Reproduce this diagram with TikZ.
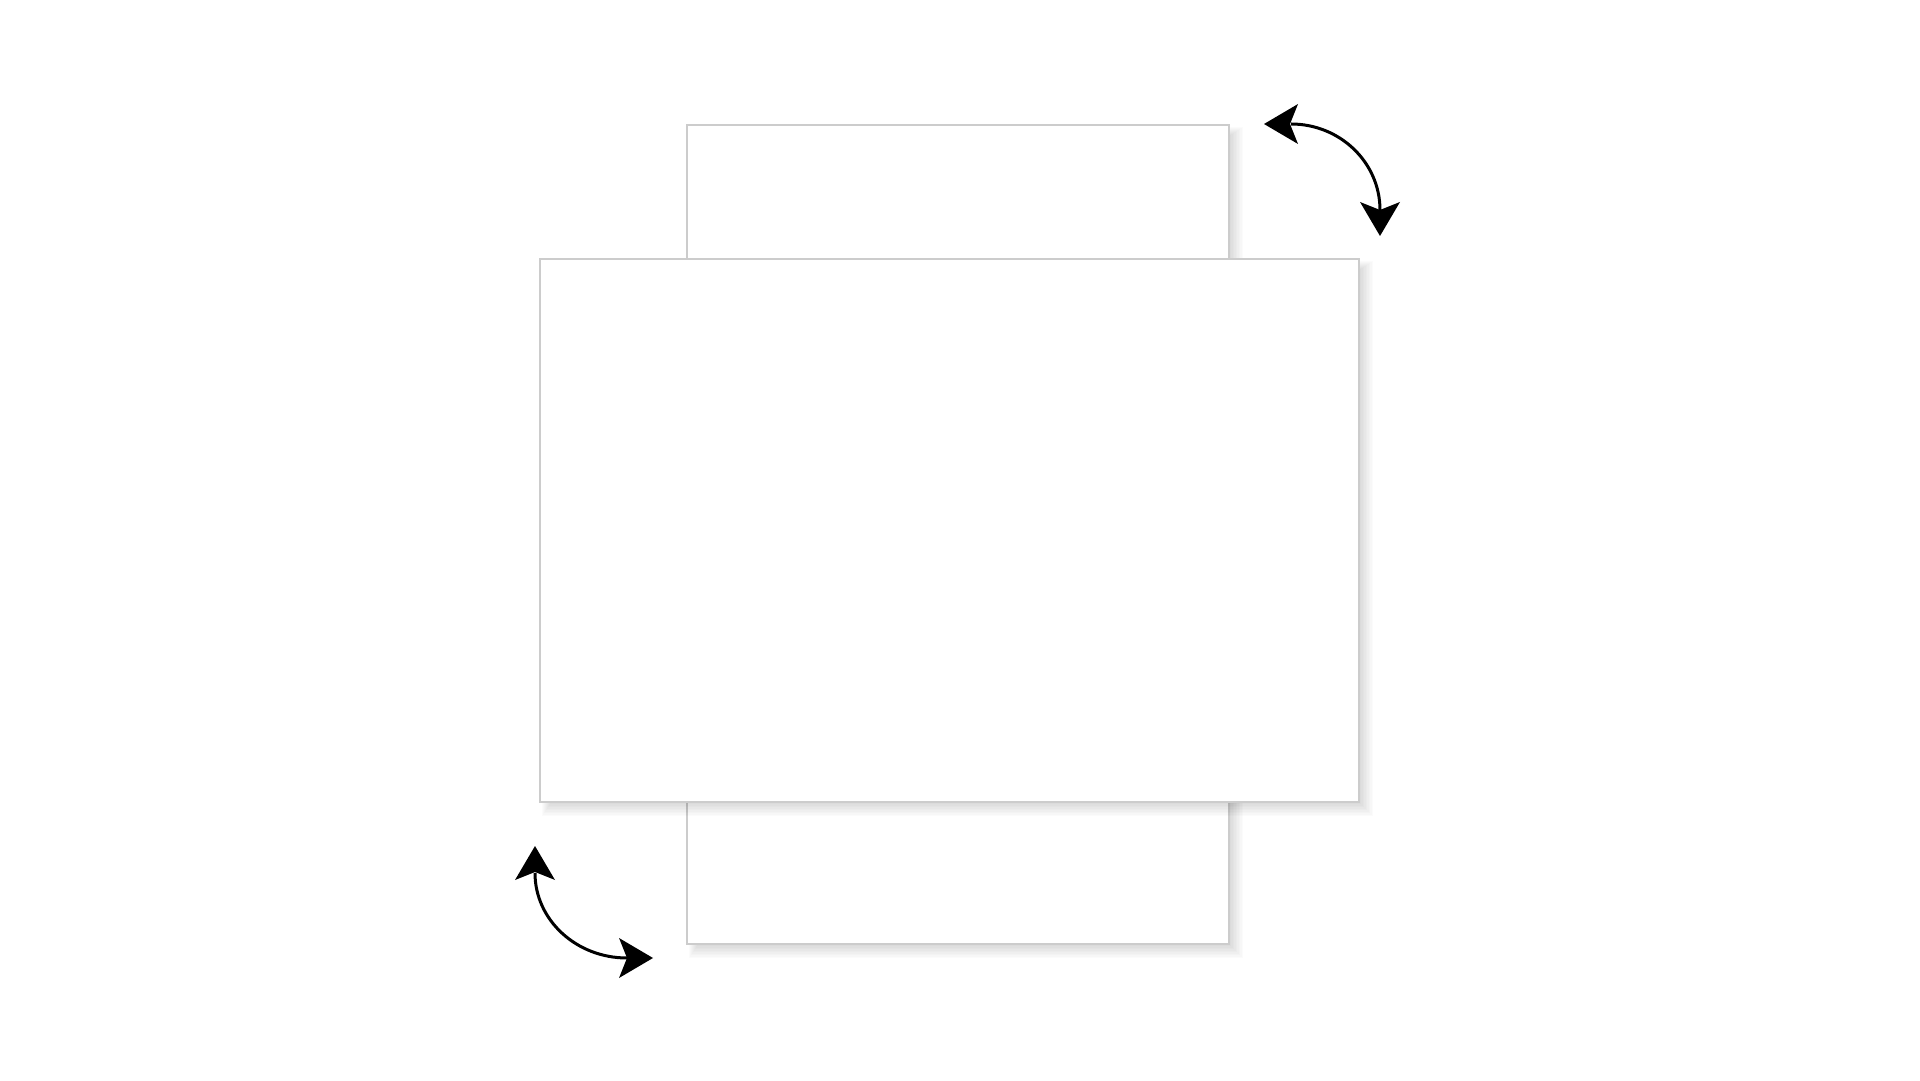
\documentclass[tikz,border=0pt]{standalone}
\tikzset{
  sheet/.style={draw=black!20, line width=1.2pt, fill=white, inner sep=0pt, outer sep=0pt},
  turnline/.style={line width=3pt},
  shadowlayer/.style={fill=black, opacity=0.014},
  tiphead/.pic={\fill[black] (0,0) -- (34,20) -- (26,0) -- (34,-20) -- cycle;}
}
\begin{document}
\begin{tikzpicture}[x=1pt,y=1pt]
\useasboundingbox (0,0) rectangle (1920,1080);
\fill[white] (0,0) rectangle (1920,1080);
% tall sheet
\coordinate (tallNW) at (687,955);
\coordinate (tallSE) at (1229,136);
\foreach \k in {0,...,9}
  \fill[shadowlayer] ([shift={(2+\k,-2-\k)}]tallNW) rectangle ([shift={(14-1.5*\k,-14+1.5*\k)}]tallSE);
\node[sheet, minimum width=542pt, minimum height=819pt] (tall) at (958,545.5) {};
% wide sheet
\coordinate (wideNW) at (540,821);
\coordinate (wideSE) at (1359,278);
\foreach \k in {0,...,9}
  \fill[shadowlayer] ([shift={(2+\k,-2-\k)}]wideNW) rectangle ([shift={(14-1.5*\k,-14+1.5*\k)}]wideSE);
\node[sheet, minimum width=819pt, minimum height=543pt] (wide) at (949.5,549.5) {};
% rotation arrows
\coordinate (tra) at (1264,956);
\coordinate (trb) at (1380,844);
\coordinate (tras) at (1291,956);
\coordinate (blc) at (535,234);
\coordinate (bld) at (653,122);
\coordinate (blcs) at (535,207);
\draw[turnline] (tras) arc[start angle=90, end angle=0, x radius=89, y radius=86];
\pic at (tra) {tiphead};
\pic[rotate=90] at (trb) {tiphead};
\draw[turnline] (blcs) arc[start angle=180, end angle=270, x radius=92, y radius=85];
\pic[rotate=-90] at (blc) {tiphead};
\pic[rotate=180] at (bld) {tiphead};
\end{tikzpicture}
\end{document}
